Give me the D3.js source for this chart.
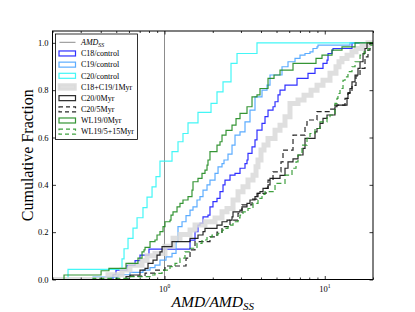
<!DOCTYPE html>
<html>
<head>
<meta charset="utf-8">
<script src="https://cdn.jsdelivr.net/npm/d3@7"></script>
<style>
body { margin: 0; background: #fff; }
svg { display: block; font-family: "Liberation Serif", "DejaVu Serif", serif; }
</style>
</head>
<body>
<svg width="415" height="312"></svg>
<script>
// step positions (AMD / AMD_SS) and cumulative fraction after each step
var c18Amd = [0.477, 0.498, 0.583, 0.655, 0.703, 0.800, 1.443, 1.550, 1.618, 1.665, 1.739, 1.868, 1.922, 2.007, 2.126,
    2.220, 2.318, 2.385, 2.563, 2.754, 2.959, 3.179, 3.272, 3.319, 3.516, 3.670, 3.777, 4.059, 4.238, 4.425,
    4.755, 4.893, 5.109, 5.258, 5.648, 6.713, 7.861, 8.692, 9.750, 10.33, 10.48, 11.10, 11.26, 14.79];
var c18Frac = [0.02, 0.04, 0.06, 0.08, 0.103, 0.128, 0.166, 0.202, 0.23, 0.237, 0.265, 0.272, 0.307, 0.329, 0.343,
    0.371, 0.40, 0.42, 0.441, 0.448, 0.47, 0.49, 0.505, 0.533, 0.56, 0.59, 0.631, 0.66, 0.688, 0.716,
    0.73, 0.751, 0.78, 0.80, 0.821, 0.85, 0.871, 0.892, 0.913, 0.927, 0.955, 0.969, 0.976, 1.0];

var c19Amd = [0.358, 0.513, 0.609, 0.734, 0.812, 0.872, 0.937, 1.022, 1.114, 1.180, 1.214, 1.286, 1.362, 1.443, 1.506,
    1.595, 1.665, 1.739, 1.842, 1.922, 2.066, 2.158, 2.285, 2.351, 2.490, 2.638, 2.754, 2.959, 3.179, 3.416,
    3.670, 4.059, 4.362, 4.554, 5.411, 5.897, 6.522, 7.008, 7.529, 8.090, 8.446, 8.946, 9.075, 14.37];
var c19Frac = [0.01, 0.02, 0.03, 0.04, 0.05, 0.061, 0.082, 0.096, 0.11, 0.16, 0.223, 0.244, 0.27, 0.293, 0.307,
    0.336, 0.35, 0.378, 0.40, 0.42, 0.448, 0.476, 0.49, 0.505, 0.53, 0.568, 0.61, 0.624, 0.666, 0.716,
    0.772, 0.80, 0.821, 0.864, 0.899, 0.92, 0.934, 0.948, 0.955, 0.962, 0.976, 0.983, 0.99, 1.0];

var c20Amd = [0.250, 0.543, 0.559, 0.592, 0.636, 0.674, 0.734, 0.778, 0.836, 0.885, 0.937, 1.114, 1.214, 1.304, 1.402,
    1.618, 1.951, 2.126, 2.318, 2.600, 2.835, 3.777];
var c20Frac = [0.043, 0.087, 0.13, 0.174, 0.217, 0.261, 0.304, 0.348, 0.391, 0.435, 0.5, 0.54, 0.582, 0.617, 0.662,
    0.706, 0.744, 0.793, 0.835, 0.913, 0.955, 1.0];

var c1819Amd = [0.444, 0.543, 0.609, 0.724, 0.778, 0.872, 1.007, 1.130, 1.249, 1.443, 1.550, 1.789, 2.066, 2.285, 2.455,
    2.676, 2.876, 3.089, 3.319, 3.566, 3.724, 3.832, 4.001, 4.178, 4.425, 4.893, 5.258, 5.648, 6.069, 6.808,
    7.422, 8.207, 8.946, 9.750, 10.78, 11.75, 12.27, 12.81, 13.77, 14.79, 15.67, 17.08, 18.61];
var c1819Frac = [0.02, 0.04, 0.06, 0.08, 0.1, 0.11, 0.14, 0.174, 0.19, 0.209, 0.23, 0.244, 0.26, 0.286, 0.30,
    0.336, 0.371, 0.392, 0.42, 0.441, 0.476, 0.505, 0.547, 0.568, 0.596, 0.631, 0.652, 0.688, 0.744, 0.758,
    0.779, 0.80, 0.821, 0.842, 0.871, 0.899, 0.92, 0.934, 0.948, 0.962, 0.976, 0.99, 1.0];

var c20t0Amd = [0.575, 0.609, 0.703, 0.756, 0.789, 0.848, 0.898, 0.937, 0.965, 1.114, 1.443, 1.618, 1.739, 1.789, 2.126,
    2.285, 2.455, 2.638, 2.676, 2.959, 3.045, 3.272, 3.416, 3.670, 3.832, 3.944, 4.118, 4.425, 4.554, 5.258,
    5.648, 5.897, 6.337, 6.808, 7.316, 7.529, 8.692, 8.946, 9.339, 9.750, 10.33, 11.58, 11.92, 13.77, 13.96,
    14.37, 14.79, 15.45, 16.12, 16.60, 17.33, 17.83, 18.35];
var c20t0Frac = [0.012, 0.019, 0.04, 0.047, 0.068, 0.082, 0.103, 0.117, 0.139, 0.16, 0.174, 0.188, 0.202, 0.216, 0.23,
    0.244, 0.251, 0.265, 0.286, 0.293, 0.307, 0.322, 0.336, 0.35, 0.364, 0.371, 0.385, 0.40, 0.427, 0.44,
    0.47, 0.497, 0.51, 0.526, 0.554, 0.596, 0.624, 0.638, 0.66, 0.681, 0.695, 0.73, 0.737, 0.765, 0.786,
    0.807, 0.835, 0.864, 0.892, 0.92, 0.955, 0.976, 1.0];

var c20t5Amd = [0.592, 0.756, 0.872, 1.007, 1.362, 1.443, 1.550, 1.922, 2.126, 2.285, 2.563, 2.876, 3.045, 3.516, 3.777,
    4.300, 4.425, 4.755, 5.333, 5.488, 6.337, 7.529, 7.749, 8.946, 10.78, 11.58, 13.38, 13.96, 14.79, 15.67,
    16.60, 17.83, 18.61, 19.15];
var c20t5Frac = [0.014, 0.027, 0.04, 0.057, 0.09, 0.125, 0.16, 0.18, 0.2, 0.223, 0.251, 0.28, 0.315, 0.34, 0.364,
    0.385, 0.42, 0.455, 0.497, 0.547, 0.61, 0.652, 0.674, 0.709, 0.72, 0.737, 0.765, 0.79, 0.82, 0.86,
    0.892, 0.941, 0.969, 1.0];

var wl19t0Amd = [0.236, 0.402, 0.450, 0.575, 0.683, 0.724, 0.745, 0.756, 0.812, 0.872, 0.898, 0.937, 0.979, 1.007, 1.082,
    1.098, 1.130, 1.197, 1.249, 1.304, 1.402, 1.484, 1.506, 1.618, 1.714, 1.789, 1.842, 1.868, 1.922, 2.126,
    2.220, 2.285, 2.420, 2.638, 2.794, 2.959, 3.272, 3.516, 3.777, 3.944, 4.425, 4.824, 5.258, 6.337, 8.818,
    9.612, 11.10, 12.81, 15.45];
var wl19t0Frac = [0.019, 0.037, 0.047, 0.068, 0.09, 0.117, 0.125, 0.136, 0.16, 0.167, 0.188, 0.202, 0.223, 0.244, 0.251,
    0.272, 0.286, 0.307, 0.322, 0.336, 0.35, 0.378, 0.413, 0.427, 0.448, 0.462, 0.483, 0.505, 0.54, 0.568,
    0.582, 0.61, 0.63, 0.652, 0.68, 0.702, 0.73, 0.772, 0.78, 0.807, 0.85, 0.864, 0.885, 0.913, 0.934,
    0.948, 0.969, 0.983, 1.0];

var wl19t5Amd = [0.358, 0.609, 0.812, 0.872, 0.965, 1.082, 1.163, 1.249, 1.342, 1.443, 1.595, 1.714, 1.842, 1.979, 2.158,
    2.285, 2.420, 2.490, 2.676, 2.876, 2.959, 3.089, 3.319, 3.566, 3.832, 4.059, 4.238, 4.893, 5.648, 6.246,
    6.617, 6.808, 7.211, 7.749, 8.090, 8.692, 9.339, 10.33, 10.78, 11.58, 11.92, 12.09, 12.45, 13.00, 13.38,
    13.96, 14.79, 15.45, 16.60, 17.58, 18.61, 19.15, 19.71];
var wl19t5Frac = [0.005, 0.012, 0.019, 0.026, 0.04, 0.054, 0.068, 0.09, 0.117, 0.132, 0.153, 0.167, 0.18, 0.188, 0.195,
    0.209, 0.216, 0.23, 0.244, 0.26, 0.272, 0.286, 0.30, 0.322, 0.343, 0.36, 0.371, 0.406, 0.441, 0.47,
    0.497, 0.526, 0.568, 0.596, 0.617, 0.638, 0.666, 0.688, 0.695, 0.744, 0.765, 0.786, 0.807, 0.842, 0.856,
    0.878, 0.899, 0.92, 0.948, 0.962, 0.976, 0.99, 1.0];

var seriesNames = ["C18/control", "C19/control", "C20/control", "C18+C19/1Myr",
    "C20/0Myr", "C20/5Myr", "WL19/0Myr", "WL19/5+15Myr"];
var yTicks = [0, 0.2, 0.4, 0.6, 0.8, 1.0];
var xMajor = [1, 10];
var xMinor = [0.2, 0.3, 0.4, 0.5, 0.6, 0.7, 0.8, 0.9, 2, 3, 4, 5, 6, 7, 8, 9, 20];
var amdSS = 1;

var svg = d3.select("svg"),
    margin = {top: 31, right: 42, bottom: 32.5, left: 52.5},
    width = +svg.attr("width") - margin.left - margin.right,
    height = +svg.attr("height") - margin.top - margin.bottom,
    g = svg.append("g").attr("transform", "translate(" + margin.left + "," + margin.top + ")");

var x = d3.scaleLog().domain([0.2, 20]).range([0, width]);
var y = d3.scaleLinear().domain([0, 1.05]).range([height, 0]);

var styles = [
    {amd: c18Amd, frac: c18Frac, color: "#1a1aff", w: 1.2},
    {amd: c19Amd, frac: c19Frac, color: "#4aa3ff", w: 1.2},
    {amd: c20Amd, frac: c20Frac, color: "#2ff5f5", w: 1.2},
    {amd: c1819Amd, frac: c1819Frac, color: "#d9d9d9", w: 5, op: 0.85, band: true},
    {amd: c20t0Amd, frac: c20t0Frac, color: "#111111", w: 1.2},
    {amd: c20t5Amd, frac: c20t5Frac, color: "#111111", w: 1.2, dash: "5,3"},
    {amd: wl19t0Amd, frac: wl19t0Frac, color: "#1f8a1f", w: 1.2},
    {amd: wl19t5Amd, frac: wl19t5Frac, color: "#2a962a", w: 1.2, dash: "5,3"}
];

svg.append("defs").append("clipPath").attr("id", "plotclip")
  .append("rect").attr("width", width).attr("height", height);

var line = d3.line()
    .x(function(d) { return x(d[0]); })
    .y(function(d) { return y(d[1]); })
    .curve(d3.curveStepAfter);

var plot = g.append("g").attr("clip-path", "url(#plotclip)");

// AMD of the solar system
plot.append("line")
    .attr("x1", x(amdSS)).attr("x2", x(amdSS))
    .attr("y1", 0).attr("y2", height)
    .attr("stroke", "#8c8c8c").attr("stroke-width", 1);

styles.forEach(function(s) {
    var pts = [[0.2, 0]];
    s.amd.forEach(function(a, i) { pts.push([a, s.frac[i]]); });
    pts.push([20, s.frac[s.frac.length - 1]]);
    plot.append("path")
        .datum(pts)
        .attr("fill", "none")
        .attr("stroke", s.color)
        .attr("stroke-width", s.w)
        .attr("stroke-opacity", s.op || 0.9)
        .attr("stroke-dasharray", s.dash || null)
        .attr("d", line);
});

// ticks, inward on every side
function tickStyle(sel) {
    sel.select(".domain").remove();
    sel.selectAll(".tick line").attr("stroke", "#000").attr("stroke-width", 0.8);
}
g.append("g").attr("transform", "translate(0," + height + ")")
    .call(d3.axisBottom(x).tickValues(xMajor).tickSize(-3.5).tickFormat("")).call(tickStyle);
g.append("g").attr("transform", "translate(0," + height + ")")
    .call(d3.axisBottom(x).tickValues(xMinor).tickSize(-2).tickFormat("")).call(tickStyle);
g.append("g")
    .call(d3.axisTop(x).tickValues(xMajor).tickSize(-3.5).tickFormat("")).call(tickStyle);
g.append("g")
    .call(d3.axisTop(x).tickValues(xMinor).tickSize(-2).tickFormat("")).call(tickStyle);
g.append("g")
    .call(d3.axisLeft(y).tickValues(yTicks).tickSize(-3.5).tickPadding(4).tickFormat(d3.format(".1f")))
    .call(tickStyle)
    .selectAll("text").attr("font-size", 8.5).attr("font-family", "Liberation Serif").attr("fill", "#000");
g.append("g").attr("transform", "translate(" + width + ",0)")
    .call(d3.axisRight(y).tickValues(yTicks).tickSize(-3.5).tickFormat("")).call(tickStyle);

// 10^n labels
var xl = g.append("g").selectAll("text").data(xMajor).enter().append("text")
    .attr("x", function(d) { return x(d); })
    .attr("y", height + 12)
    .attr("text-anchor", "middle")
    .attr("font-size", 8.5);
xl.append("tspan").text("10");
xl.append("tspan").attr("font-size", 5.5).attr("dy", -3.5)
    .text(function(d) { return Math.round(Math.log10(d)); });

// frame
g.append("rect").attr("width", width).attr("height", height)
    .attr("fill", "none").attr("stroke", "#000").attr("stroke-width", 1);

// axis titles
var xt = g.append("text")
    .attr("x", width / 2).attr("y", height + 27.5)
    .attr("text-anchor", "middle")
    .attr("font-size", 15.5).attr("font-style", "italic");
xt.append("tspan").text("AMD/AMD");
xt.append("tspan").attr("font-size", 11).attr("dy", 3).text("SS");

g.append("text")
    .attr("transform", "translate(-20," + (height / 2) + ") rotate(-90)")
    .attr("text-anchor", "middle")
    .attr("font-size", 16)
    .text("Cumulative Fraction");

// legend
var leg = g.append("g").attr("transform", "translate(3,3)");
leg.append("rect").attr("width", 82).attr("height", 105.5)
    .attr("fill", "#fff").attr("stroke", "#000").attr("stroke-width", 0.8);
var rowH = 11.17, firstRow = 8.3;
leg.append("line").attr("x1", 4).attr("x2", 20)
    .attr("y1", firstRow).attr("y2", firstRow)
    .attr("stroke", "#8c8c8c").attr("stroke-width", 1);
var l0 = leg.append("text").attr("x", 25.5).attr("y", firstRow + 2.8)
    .attr("font-size", 8).attr("font-style", "italic");
l0.append("tspan").text("AMD");
l0.append("tspan").attr("font-size", 5.8).attr("dy", 2).text("SS");

styles.forEach(function(s, i) {
    var cy = firstRow + (i + 1) * rowH;
    leg.append("rect")
        .attr("x", 3.5).attr("y", cy - 2.5)
        .attr("width", 16.5).attr("height", 5)
        .attr("fill", s.band ? s.color : "none")
        .attr("stroke", s.color)
        .attr("stroke-width", s.band ? 2.5 : 1.2)
        .attr("stroke-opacity", s.op || 0.9)
        .attr("fill-opacity", s.op || 0.9)
        .attr("stroke-dasharray", s.dash ? "4,3" : null);
    leg.append("text").attr("x", 25.5).attr("y", cy + 2.8)
        .attr("font-size", 8)
        .text(seriesNames[i]);
});
</script>
</body>
</html>
